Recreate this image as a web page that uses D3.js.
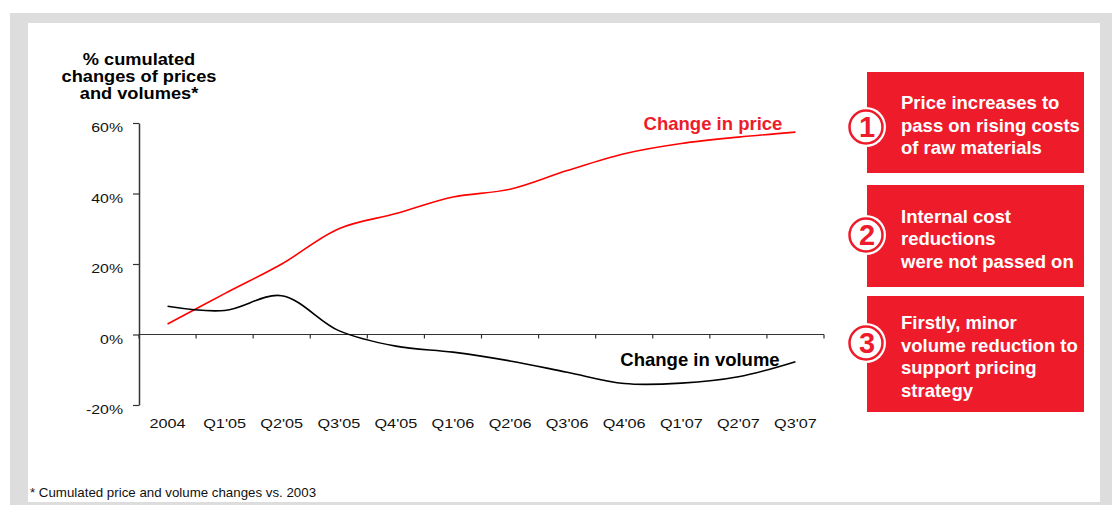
<!DOCTYPE html>
<html>
<head>
<meta charset="utf-8">
<script src="https://cdn.jsdelivr.net/npm/d3@7"></script>
<style>
  body { margin: 0; background: #fff; }
  svg { display: block; font-family: "Liberation Sans", Arial, sans-serif; }
</style>
</head>
<body>
<svg id="chart" width="1112" height="505"></svg>
<script>
// data
var quarters = ["2004", "Q1'05", "Q2'05", "Q3'05", "Q4'05", "Q1'06", "Q2'06", "Q3'06", "Q4'06", "Q1'07", "Q2'07", "Q3'07"];
var priceChange = [3, 11.6, 20, 30, 34.3, 39, 41.2, 46.5, 51.3, 54.2, 56, 57.4];
var volumeChange = [8, 6.8, 11, 1.1, -3.3, -5, -7.5, -10.7, -13.9, -13.8, -12, -7.7];
var yTicks = [60, 40, 20, 0, -20];
var notes = [
    ["Price increases to", "pass on rising costs", "of raw materials"],
    ["Internal cost", "reductions", "were not passed on"],
    ["Firstly, minor", "volume reduction to", "support pricing", "strategy"]
];

var red = "#ee1c2b";
var svg = d3.select("#chart");

// grey frame
svg.append("rect").attr("x", 10).attr("y", 13).attr("width", 1102).attr("height", 492).attr("fill", "#dddddd");
svg.append("rect").attr("x", 28).attr("y", 23).attr("width", 1072).attr("height", 479).attr("fill", "#fff");

// scales
var x = d3.scaleBand().domain(quarters).range([139, 824]);
var y = d3.scaleLinear().domain([-20, 60]).range([405, 123]);

// y axis (labels are a bit wide in the original, so stretch them)
var yAxis = svg.append("g")
    .attr("transform", "translate(139,0)")
    .call(d3.axisLeft(y).tickValues(yTicks).tickSize(6).tickSizeOuter(0).tickFormat(function (d) { return d + "%"; }));
yAxis.select(".domain").attr("stroke", "#333").attr("stroke-width", 1.5);
yAxis.selectAll(".tick line").attr("stroke", "#333").attr("stroke-width", 1.2);
yAxis.selectAll(".tick text")
    .attr("font-size", 13).attr("fill", "#111")
    .attr("font-family", "Liberation Sans, Arial, sans-serif")
    .attr("x", 0).attr("dy", null).attr("y", 0)
    .attr("transform", "translate(-16,8.5) scale(1.22,1)");

// x axis line at 0% with ticks between quarters
var xAxis = svg.append("g").attr("transform", "translate(0," + y(0) + ")");
xAxis.append("line")
    .attr("x1", x.range()[0]).attr("x2", x.range()[1])
    .attr("stroke", "#333").attr("stroke-width", 1.2);
var bounds = quarters.map(function (q) { return x(q); }).concat([x.range()[1]]);
xAxis.selectAll("line.tk")
    .data(bounds)
    .enter().append("line")
    .attr("class", "tk")
    .attr("x1", function (d) { return d; }).attr("x2", function (d) { return d; })
    .attr("y1", 0).attr("y2", 4)
    .attr("stroke", "#333").attr("stroke-width", 1.2);

// quarter labels under the plot
svg.selectAll("text.ql")
    .data(quarters)
    .enter().append("text")
    .attr("class", "ql")
    .attr("transform", function (d) { return "translate(" + (x(d) + x.bandwidth() / 2) + ",428) scale(1.3,1)"; })
    .attr("text-anchor", "middle")
    .attr("font-size", 12.5)
    .attr("fill", "#111")
    .text(function (d) { return d; });

// lines
var line = d3.line()
    .x(function (d, i) { return x(quarters[i]) + x.bandwidth() / 2; })
    .y(function (d) { return y(d); })
    .curve(d3.curveCatmullRom.alpha(0.5));

svg.append("path").datum(priceChange).attr("d", line)
    .attr("fill", "none").attr("stroke", "#ff0000").attr("stroke-width", 1.6);
svg.append("path").datum(volumeChange).attr("d", line)
    .attr("fill", "none").attr("stroke", "#000").attr("stroke-width", 1.6);

// series labels
svg.append("text").attr("x", 713).attr("y", 130).attr("text-anchor", "middle")
    .attr("font-size", 18.5).attr("font-weight", "bold").attr("fill", red).text("Change in price");
svg.append("text").attr("x", 700).attr("y", 366).attr("text-anchor", "middle")
    .attr("font-size", 18.5).attr("font-weight", "bold").attr("fill", "#000").text("Change in volume");

// axis title, one text per line
["% cumulated", "changes of prices", "and volumes*"].forEach(function (t, i) {
    svg.append("text")
        .attr("transform", "translate(139," + (65 + i * 17) + ") scale(1.14,1)")
        .attr("text-anchor", "middle").attr("font-size", 16).attr("font-weight", "bold").attr("fill", "#000")
        .text(t);
});

// footnote
svg.append("text").attr("x", 30).attr("y", 497).attr("font-size", 13.3).attr("fill", "#111")
    .text("* Cumulated price and volume changes vs. 2003");

// red note boxes
var boxes = [
    { y: 72, h: 101, cy: 127 },
    { y: 185, h: 102, cy: 235 },
    { y: 296, h: 116, cy: 343 }
];
boxes.forEach(function (b, i) {
    svg.append("rect").attr("x", 867).attr("y", b.y).attr("width", 217).attr("height", b.h).attr("fill", red);
    svg.append("circle").attr("cx", 866).attr("cy", b.cy).attr("r", 20).attr("fill", "#fff");
    svg.append("circle").attr("cx", 866).attr("cy", b.cy).attr("r", 16.5).attr("fill", "#fff")
        .attr("stroke", red).attr("stroke-width", 2.5);
    svg.append("text").attr("x", 867).attr("y", b.cy + 10).attr("text-anchor", "middle")
        .attr("font-size", 29).attr("font-weight", "bold").attr("fill", red).text(i + 1);
    var lines = notes[i];
    var startY = b.y + b.h / 2 - (lines.length - 1) * 22.5 / 2 + 9;
    var t = svg.append("text").attr("font-size", 18.5).attr("font-weight", "bold").attr("fill", "#fff");
    lines.forEach(function (s, j) {
        t.append("tspan").attr("x", 901).attr("y", startY + j * 22.5).text(s);
    });
});
</script>
</body>
</html>
